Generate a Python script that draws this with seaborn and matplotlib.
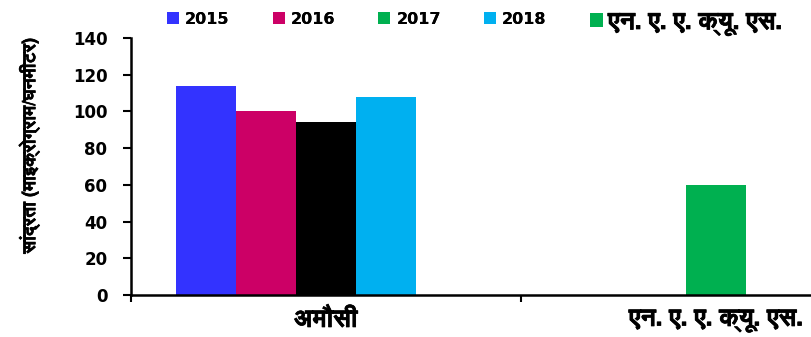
import numpy as np
import pandas as pd
import matplotlib
matplotlib.use("Agg")
import matplotlib.pyplot as plt
import matplotlib.patheffects as pe
import seaborn as sns
from matplotlib import font_manager
from matplotlib.patches import Patch

# ---- data -------------------------------------------------------------
sites = ["अमौसी", "एन. ए. ए. क्यू. एस."]
series = ["2015", "2016", "2017", "2018", "एन. ए. ए. क्यू. एस."]
v2015 = [114, np.nan]
v2016 = [100, np.nan]
v2017 = [94, 60]
v2018 = [108, np.nan]
v_naaqs = [np.nan, np.nan]
yticks = [0, 20, 40, 60, 80, 100, 120, 140]
ylabel = "सांद्रता (माइक्रोग्राम/घनमीटर)"

colors = ["#3333FF", "#CC0066", "#00B050", "#00B0F0", "#00B050"]
point_colors = {("2017", "अमौसी"): "#000000"}


def devanagari_family():
    """Return the name of an installed font that covers Devanagari."""
    try:
        from fontTools.ttLib import TTFont
    except Exception:
        return None
    found = []
    for path in font_manager.findSystemFonts():
        try:
            f = TTFont(path, fontNumber=0, lazy=True)
            cmap = f.getBestCmap()
        except Exception:
            continue
        if cmap and 0x0905 in cmap:
            found.append(path)
    if not found:
        return None
    found.sort(key=lambda p: (0 if "bold" in p.lower() else 1, len(p)))
    for p in found:
        try:
            font_manager.fontManager.addfont(p)
        except Exception:
            pass
    return font_manager.FontProperties(fname=found[0]).get_name()


deva = devanagari_family()
deva_fam = [deva, "DejaVu Sans"] if deva else ["DejaVu Sans"]
# thicken the Devanagari strokes so they read as bold
heavy = [pe.withStroke(linewidth=0.5, foreground="black")]

sns.set_style("white")
plt.rcParams["font.family"] = ["DejaVu Sans"]
plt.rcParams["text.color"] = "black"
plt.rcParams["xtick.color"] = "black"
plt.rcParams["ytick.color"] = "black"
plt.rcParams["xtick.labelcolor"] = "black"
plt.rcParams["ytick.labelcolor"] = "black"

df = pd.DataFrame({
    "site": sites * 5,
    "series": [s for s in series for _ in sites],
    "value": v2015 + v2016 + v2017 + v2018 + v_naaqs,
})

fig = plt.figure(figsize=(8.11, 3.37), dpi=100)
ax = fig.add_axes([131 / 811, 42 / 337, 780 / 811, 257 / 337])

sns.barplot(data=df, x="site", y="value", hue="series", order=sites,
            hue_order=series, palette=colors, width=0.77, saturation=1,
            errorbar=None, legend=False, ax=ax, linewidth=0)

# individual bar colour overrides
for hi, cont in enumerate(ax.containers):
    for bar in cont:
        cx = bar.get_x() + bar.get_width() / 2
        si = int(round(cx))
        key = (series[hi], sites[si])
        if key in point_colors:
            bar.set_facecolor(point_colors[key])

ax.set_xlim(-0.5, 1.5)
ax.set_ylim(0, 140)
ax.set_yticks(yticks)
ax.set_yticklabels([str(t) for t in yticks], fontsize=12, fontweight="bold",
                   color="black")
ax.set_xlabel("")
ax.set_ylabel("")

for side in ["top", "right"]:
    ax.spines[side].set_visible(False)
for side in ["left", "bottom"]:
    ax.spines[side].set_linewidth(1.8)
    ax.spines[side].set_color("black")

ax.tick_params(axis="y", direction="out", length=6, width=1.5, pad=11,
               left=True, colors="black")
ax.set_xticks([0, 1])
ax.set_xticklabels(sites, fontsize=18, fontweight="bold", family=deva_fam,
                   color="black")
for t in ax.get_xticklabels():
    t.set_path_effects(heavy)
ax.set_xticks([-0.5, 0.5, 1.5], minor=True)
ax.tick_params(axis="x", which="major", length=0, pad=9)
ax.tick_params(axis="x", which="minor", direction="out", length=5,
               width=1.5, bottom=True, colors="black")

fig.text(29 / 811, 1 - 145 / 337, ylabel, rotation=90, ha="center",
         va="center", fontsize=13, fontweight="bold", family=deva_fam,
         color="black", path_effects=heavy)

handles = [Patch(facecolor=c, edgecolor="none") for c in colors]
leg_style = dict(frameon=False, handlelength=0.75, handleheight=0.7,
                 handletextpad=0.38, columnspacing=2.7, borderpad=0,
                 borderaxespad=0, labelcolor="black", loc="center left")

# year entries
leg_years = fig.legend(handles[:4], series[:4],
                       bbox_to_anchor=(167 / 811, 1 - 19 / 337), ncol=4,
                       prop={"family": ["DejaVu Sans"], "weight": "bold",
                             "size": 11.5}, **leg_style)
# standard (NAAQS) entry
leg_std = fig.legend(handles[4:], series[4:],
                     bbox_to_anchor=(590 / 811, 1 - 23 / 337), ncol=1,
                     prop={"family": deva_fam, "weight": "bold", "size": 18},
                     **{**leg_style, "handlelength": 0.5,
                        "handleheight": 0.47, "handletextpad": 0.22})
fig.add_artist(leg_years)
for t in leg_std.get_texts():
    t.set_path_effects(heavy)

fig.savefig("out.png", dpi=100, facecolor="white")
